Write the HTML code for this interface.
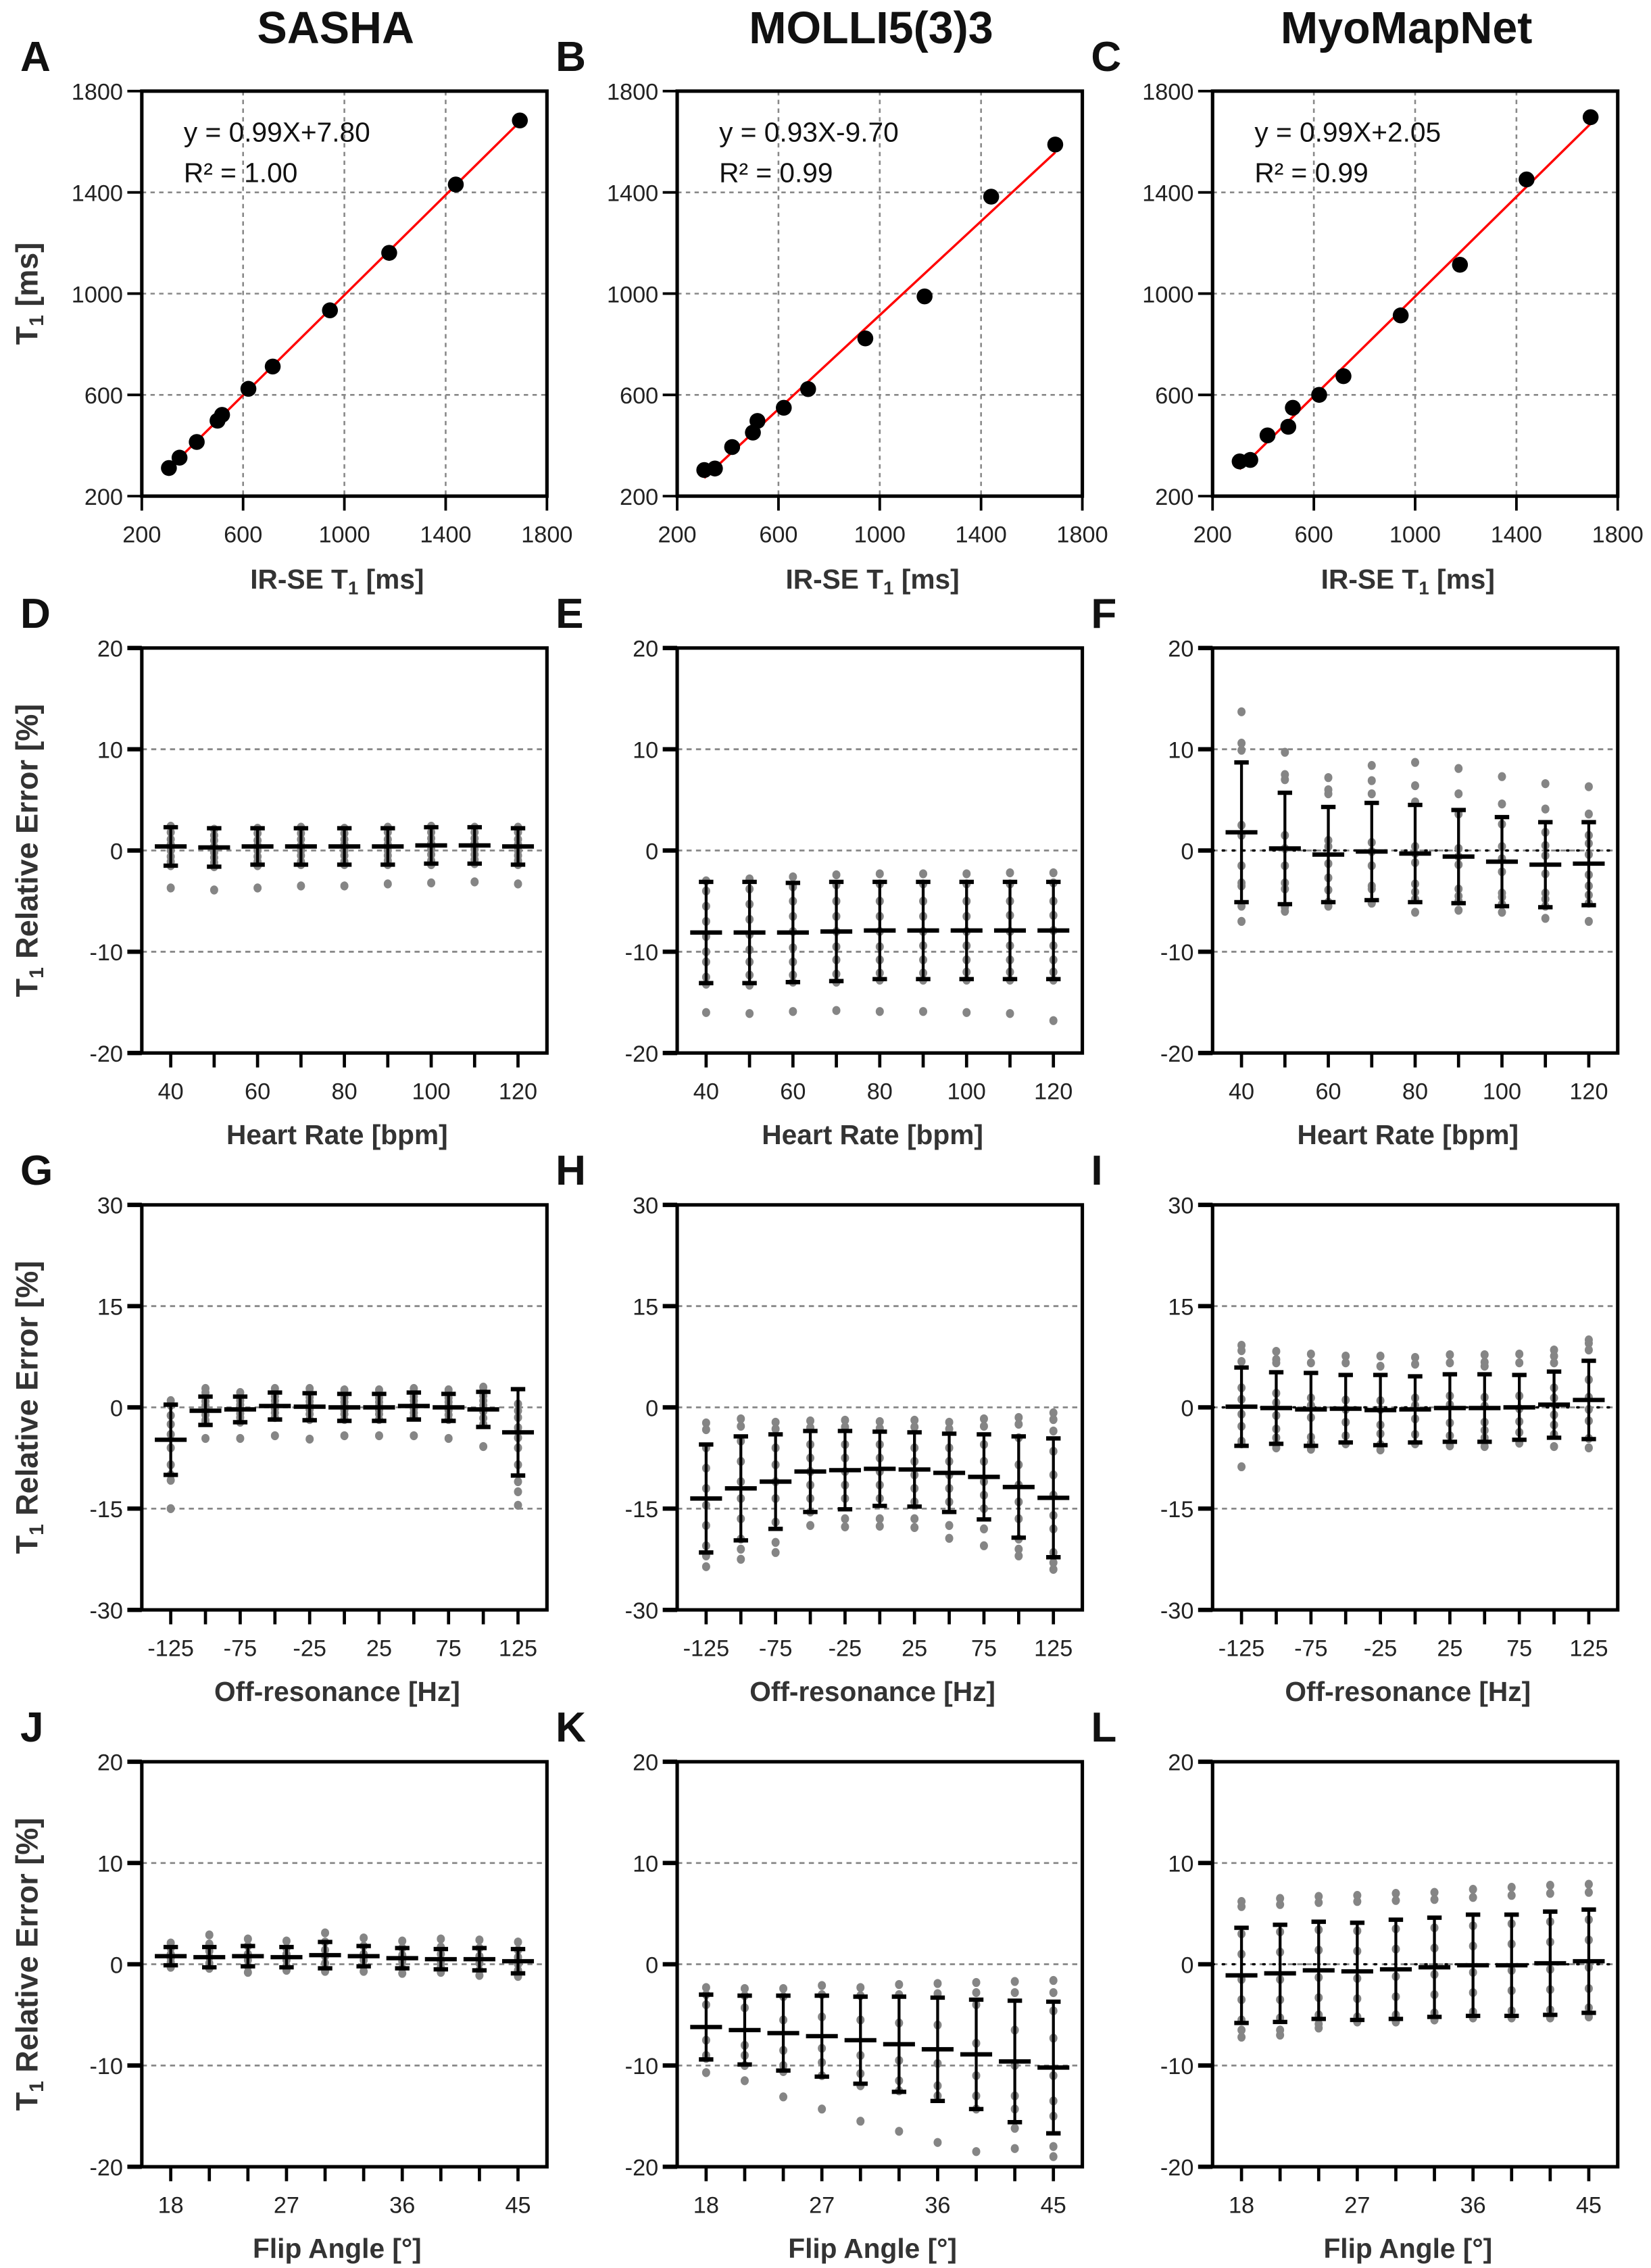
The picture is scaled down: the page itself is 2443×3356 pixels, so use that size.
<!DOCTYPE html>
<html><head><meta charset="utf-8">
<style>
html,body{margin:0;padding:0;background:#fff;}
svg{display:block;}
text{font-family:"Liberation Sans","DejaVu Sans",sans-serif;}
</style></head>
<body>
<svg id="fig" width="2443" height="3356" viewBox="0 0 1141 1568" preserveAspectRatio="none" xmlns="http://www.w3.org/2000/svg"></svg>
<script>
// ---------- Data ----------
const irse = [307,349,417,499,517,621,717,943,1177,1440,1693];
const sashaT1 = [311,352,414,498,521,624,712,934,1161,1431,1684];
const molliT1 = [303,309,394,451,497,549,623,823,989,1383,1589];
const myoT1 = [337,343,440,474,549,600,674,914,1114,1451,1697];
const fitLabels = [["y = 0.99X+7.80","R² = 1.00"],["y = 0.93X-9.70","R² = 0.99"],["y = 0.99X+2.05","R² = 0.99"]];

const hrCats = [40,50,60,70,80,90,100,110,120];
const hrTicks = ["40","","60","","80","","100","","120"];
const offCats = [-125,-100,-75,-50,-25,0,25,50,75,100,125];
const offTicks = ["-125","","-75","","-25","","25","","75","","125"];
const faCats = [18,21,24,27,30,33,36,39,42,45];
const faTicks = ["18","","","27","","","36","","","45"];

const dMean = [0.4,0.3,0.4,0.4,0.4,0.4,0.5,0.5,0.4];
const dSd = [1.9,1.9,1.8,1.8,1.8,1.8,1.8,1.8,1.8];
const dDots = [[2.4,1.8,1.1,0.6,0,-0.6,-1.1,-1.5,-3.7],[2.1,1.5,1.0,0.4,-0.2,-0.7,-1.2,-1.6,-3.9],[2.2,1.7,1.0,0.5,0,-0.6,-1.1,-1.5,-3.7],[2.3,1.7,1.1,0.5,0,-0.5,-1.1,-1.4,-3.5],[2.2,1.7,1.1,0.6,0,-0.5,-1.1,-1.4,-3.5],[2.3,1.8,1.1,0.6,0,-0.5,-1.0,-1.4,-3.3],[2.4,1.8,1.2,0.7,0.1,-0.4,-1.0,-1.4,-3.2],[2.3,1.8,1.2,0.7,0.1,-0.4,-0.9,-1.3,-3.1],[2.3,1.8,1.1,0.6,0,-0.5,-1.0,-1.4,-3.3]];

const eMean = [-8.1,-8.1,-8.1,-8.0,-7.9,-7.9,-7.9,-7.9,-7.9];
const eSd = [5.0,5.0,4.9,4.9,4.8,4.8,4.8,4.8,4.8];
const eDots = [[-3,-4,-5.5,-7,-8.5,-10,-11,-12.5,-13.2,-16],[-2.8,-3.8,-5.3,-6.8,-8.3,-9.8,-11,-12.3,-13.3,-16.1],[-2.6,-3.6,-5,-6.5,-8,-9.6,-11,-12.3,-13,-15.9],[-2.4,-3.4,-5,-6.5,-8,-9.5,-10.8,-12.2,-13,-15.8],[-2.3,-3.3,-5,-6.5,-8,-9.5,-10.8,-12.1,-12.8,-15.9],[-2.3,-3.3,-5,-6.5,-8,-9.4,-10.8,-12.1,-12.8,-15.9],[-2.3,-3.3,-5,-6.5,-8,-9.4,-10.8,-12,-12.8,-16],[-2.2,-3.3,-5,-6.4,-8,-9.4,-10.8,-12,-12.8,-16.1],[-2.2,-3.2,-5,-6.4,-7.9,-9.4,-10.8,-12,-12.8,-16.8]];

const fMean = [1.8,0.2,-0.4,-0.1,-0.3,-0.6,-1.1,-1.4,-1.3];
const fSd = [6.9,5.5,4.7,4.8,4.8,4.6,4.4,4.2,4.1];
const fDots = [[13.7,10.6,9.9,2.5,1.5,-1.5,-3.2,-3.5,-5.5,-7],[9.7,7.5,7,1.5,0.2,-1.5,-3.2,-3.8,-5.6,-6],[7.2,6,5.6,1,0.4,-1.3,-2.7,-3.9,-5.1,-5.5],[8.4,6.9,5.6,0.8,-0.1,-1.5,-3.5,-3.8,-5.2,-5.2],[8.7,6.4,4.8,0.4,-0.3,-1.2,-3.3,-4.1,-4.8,-6.1],[8.1,5.6,3.6,0.2,-0.6,-1.4,-3.8,-4.5,-5,-5.9],[7.3,4.6,2.6,0.4,-0.8,-2.1,-4.2,-4.6,-5.3,-6.1],[6.6,4.1,1.8,0.5,-0.5,-2.3,-4.2,-4.8,-5.5,-6.7],[6.3,3.6,1.5,0.7,-0.4,-2.4,-3.5,-4.4,-5.2,-7]];

const gMean = [-4.8,-0.5,-0.3,0.2,0.1,0,0,0.2,0,-0.3,-3.7];
const gSd = [5.2,2.1,1.9,2.0,2.0,2.0,2.0,2.0,2.0,2.6,6.4];
const gDots = [[1,0.3,-1.2,-2.5,-4,-6,-8.5,-10,-10.8,-15],[2.8,2.2,1.5,0.9,0.3,-0.4,-1.1,-1.9,-2.2,-4.6],[2.2,1.6,1,0.4,-0.2,-0.9,-1.5,-2.2,-4.6],[2.8,2.2,1.6,1,0.4,-0.2,-0.8,-1.5,-4.2],[2.8,2.2,1.5,0.9,0.3,-0.3,-1,-1.8,-4.7],[2.6,2,1.4,0.8,0.2,-0.4,-1,-1.8,-4.2],[2.6,2,1.4,0.8,0.2,-0.4,-1,-1.8,-4.2],[2.8,2.2,1.6,1,0.4,-0.2,-0.8,-1.4,-4.2],[2.6,2,1.4,0.8,0.2,-0.4,-1.1,-1.8,-4.6],[3,2.4,1.7,1,0.3,-0.6,-1.6,-2.5,-5.8],[0.5,-0.5,-1.5,-3,-4.5,-6,-8.5,-11,-12.5,-14.5]];

const hMean = [-13.5,-12,-11,-9.5,-9.3,-9.1,-9.2,-9.7,-10.3,-11.8,-13.4];
const hSd = [8.0,7.7,7.0,6.0,5.8,5.5,5.5,5.8,6.3,7.5,8.8];
const hDots = [[-2.3,-3.3,-6,-9,-12,-14.5,-17.5,-20.5,-22,-23.6],[-1.7,-2.8,-5,-8,-11,-13.5,-16.5,-19.5,-21,-22.5],[-2.2,-3.2,-6,-8.5,-11,-13.5,-17,-20,-21.5],[-2,-3,-5.5,-7.5,-9.5,-11.5,-13.5,-15.5,-17.5],[-1.9,-2.9,-5.5,-7.5,-9.5,-11.5,-13.5,-16.5,-17.7],[-2.1,-3.1,-5.5,-7.5,-9.5,-11.5,-13.5,-16.5,-17.6],[-1.9,-2.9,-6,-8,-10,-12,-14,-16.5,-17.8],[-2.2,-3.2,-6,-8,-10,-12,-14,-17.5,-19.4],[-1.7,-2.8,-5.5,-8,-11,-13,-15,-18,-20.5],[-1.5,-2.5,-4.5,-8.5,-11.5,-14,-16.5,-19.5,-21,-22],[-0.8,-1.8,-3.5,-6.5,-10,-13,-16,-18,-21.5,-23,-24]];

const iMean = [0.1,-0.1,-0.3,-0.2,-0.4,-0.3,-0.1,-0.1,0,0.4,1.1];
const iSd = [5.8,5.3,5.4,5.0,5.2,4.9,5.0,5.0,4.8,4.9,5.8];
const iDots = [[9.2,8.4,6.8,2.9,1.2,-1,-2.8,-5,-5.4,-8.8],[8.3,7.1,6.6,2.1,0.7,-1.2,-3.2,-4.5,-5.4,-6],[7.9,6.6,1.4,0.3,-1.5,-4.4,-5.3,-6.2],[7.6,6.6,1.1,-0.3,-2.2,-4.2,-5.4],[7.6,6.1,1,-0.3,-2.6,-3.9,-5.5,-6.3],[7.4,6.4,1.4,0.3,-1.7,-4,-5.4],[7.8,6.6,1.7,0.4,-2.3,-4.2,-5.7],[7.8,6.7,6.1,1.5,0.2,-2.2,-3.4,-4.5,-5.8],[7.9,6.6,1.7,-0.2,-2.1,-3.7,-5.3],[8.5,7.6,6.6,2.9,1.4,-1.1,-2.6,-4,-5.8],[10,9.5,8.5,4.1,1.5,-0.3,-2,-4.6,-6]];

const jMean = [0.8,0.7,0.8,0.7,0.9,0.8,0.6,0.5,0.5,0.3];
const jSd = [0.9,1.0,1.0,1.0,1.3,1.0,1.0,1.0,1.1,1.2];
const jDots = [[2.1,1.6,1,0.6,0.2,-0.3],[2.9,2,1.3,0.7,0.1,-0.4],[2.5,1.8,1,0.4,-0.2,-0.8],[2.3,1.6,1,0.4,-0.2,-0.6],[3.1,2.2,1.4,0.8,0.1,-0.7],[2.6,1.8,1,0.4,-0.2,-0.7],[2.3,1.6,0.9,0.3,-0.4,-0.9],[2.5,1.7,1,0.3,-0.3,-0.8],[2.4,1.6,0.8,0.1,-0.6,-1.1],[2.2,1.4,0.7,0,-0.6,-1.2]];

const kMean = [-6.2,-6.5,-6.8,-7.1,-7.5,-7.9,-8.4,-8.9,-9.6,-10.2];
const kSd = [3.2,3.4,3.7,4.0,4.3,4.7,5.1,5.4,6.0,6.5];
const kDots = [[-2.3,-3,-4,-7.5,-9,-9.3,-10.7],[-2.4,-3.1,-4.3,-8,-9,-10,-11.5],[-2.4,-3.2,-5.5,-8.5,-10,-10.6,-13.1],[-2.1,-3,-5.2,-8.3,-9.7,-11,-14.3],[-2.3,-3.1,-5.5,-9,-10.8,-12,-15.5],[-2,-3,-5.8,-9.5,-11.5,-12.5,-16.5],[-1.9,-2.9,-6,-9.8,-12,-13,-17.6],[-1.8,-2.8,-4,-7.8,-11,-13,-14.3,-18.5],[-1.7,-2.8,-6.5,-10,-13,-14.3,-16.2,-18.2],[-1.6,-2.8,-4.6,-7.3,-11,-13.5,-15,-18,-19]];

const lMean = [-1.1,-0.9,-0.6,-0.7,-0.5,-0.3,-0.1,-0.1,0.1,0.3];
const lSd = [4.7,4.8,4.8,4.8,4.9,4.9,5.0,5.0,5.1,5.1];
const lDots = [[6.2,5.7,3,1,-1.5,-3.5,-5.5,-6.5,-7.2],[6.5,5.9,3.2,1.2,-1.5,-3.5,-5.3,-6.5,-7],[6.7,6.1,3.4,1.4,-1.3,-3.3,-5,-5.9,-6.3],[6.8,6.2,3.3,1.3,-1.4,-3.4,-5.2,-5.7],[7,6.3,3.5,1.5,-1.2,-3.2,-5,-5.7],[7.1,6.4,3.6,1.6,-1,-3,-4.8,-5.5],[7.4,6.6,3.8,1.8,-0.8,-2.8,-4.7,-5.3],[7.6,6.8,4,2,-0.6,-2.6,-4.6,-5.3],[7.8,7,4.2,2.2,-0.5,-2.5,-4.5,-5.3],[7.9,7.1,4.4,2.4,-0.3,-2.4,-4.3,-5.2]];

// ---------- Drawing ----------
const NS = "http://www.w3.org/2000/svg";
const svg = document.getElementById("fig");
function mk(tag, attrs, parent, name, text){
  const el = document.createElementNS(NS, tag);
  for (const k in attrs) el.setAttribute(k, attrs[k]);
  
  
  if (text !== undefined) el.textContent = text;
  (parent||svg).appendChild(el);
  return el;
}
const W = 280, H = 280;
const colX = [98, 468, 838];
const rowY = [63, 448, 833, 1218];

// column titles
["SASHA","MOLLI5(3)3","MyoMapNet"].forEach((t,i)=>{
  mk("text",{x:colX[i]+134,y:30,"text-anchor":"middle","font-size":31,"font-weight":"bold",fill:"#111"},svg,"column-title-"+i,t);
});
// panel letters
"ABCDEFGHIJKL".split("").forEach((L,i)=>{
  const r=Math.floor(i/3), c=i%3;
  mk("text",{x:colX[c]-84,y:rowY[r]-14,"font-size":29,"font-weight":"bold",fill:"#111"},svg,"panel-letter-"+L.toLowerCase(),L);
});

function scatterPanel(ci, ys, labels){
  const x0 = colX[ci], y0 = rowY[0];
  const g = mk("g",{},svg,"scatter-panel-"+ci);
  const sx = v => x0 + (v-200)/1600*W;
  const sy = v => y0 + H - (v-200)/1600*H;
  const ticks=[200,600,1000,1400,1800];
  ticks.forEach(t=>{
    if(t>200 && t<1800){
      mk("line",{x1:sx(t),x2:sx(t),y1:y0,y2:y0+H,stroke:"#888","stroke-width":1.2,"stroke-dasharray":"3,3"},g,"x-gridline");
      mk("line",{x1:x0,x2:x0+W,y1:sy(t),y2:sy(t),stroke:"#888","stroke-width":1.2,"stroke-dasharray":"3,3"},g,"y-gridline");
    }
    mk("line",{x1:x0-10,x2:x0,y1:sy(t),y2:sy(t),stroke:"#000","stroke-width":1.8},g,"y-tick");
    mk("line",{x1:sx(t),x2:sx(t),y1:y0+H,y2:y0+H+10,stroke:"#000","stroke-width":1.8},g,"x-tick");
    mk("text",{x:x0-13,y:sy(t)+6,"text-anchor":"end","font-size":16,fill:"#222"},g,"y-tick-label",String(t));
    mk("text",{x:sx(t),y:y0+H+32,"text-anchor":"middle","font-size":16,fill:"#222"},g,"x-tick-label",String(t));
  });
  // fit
  const n=irse.length; let mx=0,my=0; for(let i=0;i<n;i++){mx+=irse[i];my+=ys[i];} mx/=n; my/=n;
  let sxy=0,sxx=0; for(let i=0;i<n;i++){sxy+=(irse[i]-mx)*(ys[i]-my); sxx+=(irse[i]-mx)**2;}
  const b=sxy/sxx, a=my-b*mx;
  const xa=Math.min(...irse), xb=Math.max(...irse);
  mk("line",{x1:sx(xa),y1:sy(a+b*xa),x2:sx(xb),y2:sy(a+b*xb),stroke:"#f00","stroke-width":1.6},g,"regression-line");
  irse.forEach((v,i)=>{
    mk("circle",{cx:sx(v),cy:sy(ys[i]),r:5.5,fill:"#000"},g,"data-point");
  });
  mk("rect",{x:x0,y:y0,width:W,height:H,fill:"none",stroke:"#000","stroke-width":2.4},g,"plot-frame");
  mk("text",{x:x0+29,y:y0+35,"font-size":19,fill:"#111"},g,"fit-equation",labels[0]);
  mk("text",{x:x0+29,y:y0+63,"font-size":19,fill:"#111"},g,"r-squared",labels[1]);
  const tt = mk("text",{x:x0+135,y:y0+H+64,"text-anchor":"middle","font-size":19,"font-weight":"bold",fill:"#333"},g,"x-axis-title");
  tt.innerHTML = 'IR-SE T<tspan font-size="13" dy="4">1</tspan><tspan dy="-4"> [ms]</tspan>';
  if(ci===0){
    const yt = mk("text",{transform:`translate(${x0-72},${y0+H/2}) rotate(-90)`,"text-anchor":"middle","font-size":21,"font-weight":"bold",fill:"#333"},g,"y-axis-title");
    yt.innerHTML = 'T<tspan font-size="14" dy="4">1</tspan><tspan dy="-4"> [ms]</tspan>';
  }
}
scatterPanel(0, sashaT1, fitLabels[0]);
scatterPanel(1, molliT1, fitLabels[1]);
scatterPanel(2, myoT1, fitLabels[2]);

function errPanel(ri, ci, cats, tickLabels, xTitle, ymax, step, means, sds, dots, name){
  const x0 = colX[ci], y0 = rowY[ri];
  const g = mk("g",{},svg,name);
  const n = cats.length;
  const sx = i => x0 + 20 + i*(W-40)/(n-1);
  const sy = v => y0 + H - (v+ymax)/(2*ymax)*H;
  const hw = (W-40)/(n-1);
  for(let t=-ymax;t<=ymax;t+=step){
    if(t>-ymax && t<ymax){
      mk("line",{x1:x0,x2:x0+W,y1:sy(t),y2:sy(t),stroke:"#888","stroke-width":1.3,"stroke-dasharray":"3.5,3"},g,"y-gridline");
    }
    mk("line",{x1:x0-10,x2:x0,y1:sy(t),y2:sy(t),stroke:"#000","stroke-width":3},g,"y-tick");
    mk("text",{x:x0-13,y:sy(t)+6,"text-anchor":"end","font-size":16,fill:"#222"},g,"y-tick-label",String(t));
  }
  if(ci===2 || ri===1 && ci===2){
    mk("line",{x1:x0,x2:x0+W,y1:sy(0),y2:sy(0),stroke:"#000","stroke-width":1.6,"stroke-dasharray":"1,6","stroke-linecap":"round"},g,"zero-line");
  }
  cats.forEach((c,i)=>{
    mk("line",{x1:sx(i),x2:sx(i),y1:y0+H,y2:y0+H+10,stroke:"#000","stroke-width":2.2},g,"x-tick");
    if(tickLabels[i]) mk("text",{x:sx(i),y:y0+H+32,"text-anchor":"middle","font-size":16,fill:"#222"},g,"x-tick-label",tickLabels[i]);
    (dots[i]||[]).forEach(v=>{
      mk("ellipse",{cx:sx(i),cy:sy(v),rx:2.8,ry:3.1,fill:"#858585"},g,"data-dot");
    });
    const m=means[i], s=sds[i];
    const capw = Math.min(5, hw*0.25), mw = Math.min(11, hw*0.46);
    mk("line",{x1:sx(i),x2:sx(i),y1:sy(m+s),y2:sy(m-s),stroke:"#000","stroke-width":2},g,"error-bar");
    mk("line",{x1:sx(i)-capw,x2:sx(i)+capw,y1:sy(m+s),y2:sy(m+s),stroke:"#000","stroke-width":3},g,"error-cap-top");
    mk("line",{x1:sx(i)-capw,x2:sx(i)+capw,y1:sy(m-s),y2:sy(m-s),stroke:"#000","stroke-width":3},g,"error-cap-bottom");
    mk("line",{x1:sx(i)-mw,x2:sx(i)+mw,y1:sy(m),y2:sy(m),stroke:"#000","stroke-width":3},g,"mean-marker");
  });
  mk("rect",{x:x0,y:y0,width:W,height:H,fill:"none",stroke:"#000","stroke-width":2.4},g,"plot-frame");
  mk("text",{x:x0+135,y:y0+H+63,"text-anchor":"middle","font-size":19,"font-weight":"bold",fill:"#333"},g,"x-axis-title",xTitle);
  if(ci===0){
    const yt = mk("text",{transform:`translate(${x0-72},${y0+H/2}) rotate(-90)`,"text-anchor":"middle","font-size":21,"font-weight":"bold",fill:"#333"},g,"y-axis-title");
    yt.innerHTML = 'T<tspan font-size="14" dy="4">1</tspan><tspan dy="-4"> Relative Error [%]</tspan>';
  }
}
errPanel(1,0,hrCats,hrTicks,"Heart Rate [bpm]",20,10,dMean,dSd,dDots,"panel-d");
errPanel(1,1,hrCats,hrTicks,"Heart Rate [bpm]",20,10,eMean,eSd,eDots,"panel-e");
errPanel(1,2,hrCats,hrTicks,"Heart Rate [bpm]",20,10,fMean,fSd,fDots,"panel-f");
errPanel(2,0,offCats,offTicks,"Off-resonance [Hz]",30,15,gMean,gSd,gDots,"panel-g");
errPanel(2,1,offCats,offTicks,"Off-resonance [Hz]",30,15,hMean,hSd,hDots,"panel-h");
errPanel(2,2,offCats,offTicks,"Off-resonance [Hz]",30,15,iMean,iSd,iDots,"panel-i");
errPanel(3,0,faCats,faTicks,"Flip Angle [°]",20,10,jMean,jSd,jDots,"panel-j");
errPanel(3,1,faCats,faTicks,"Flip Angle [°]",20,10,kMean,kSd,kDots,"panel-k");
errPanel(3,2,faCats,faTicks,"Flip Angle [°]",20,10,lMean,lSd,lDots,"panel-l");
</script>
</body></html>
